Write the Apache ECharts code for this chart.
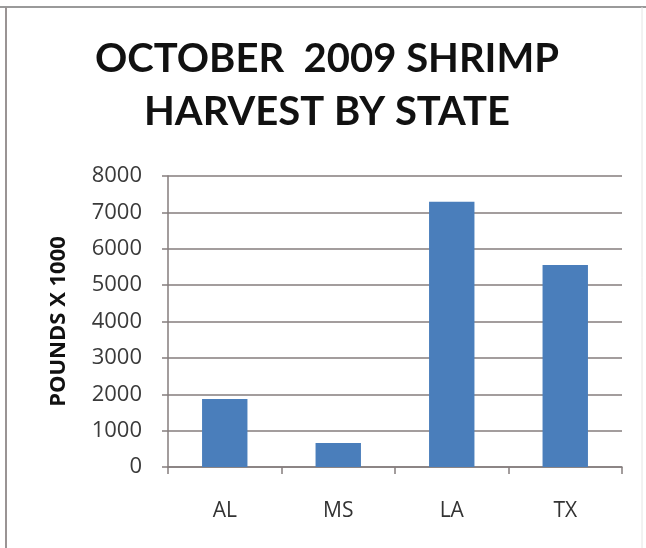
<!DOCTYPE html>
<html>
<head>
<meta charset="utf-8">
<script src="https://cdn.jsdelivr.net/npm/echarts@6/dist/echarts.min.js"></script>
<style>
  html, body { margin: 0; padding: 0; background: #ffffff; }
  #chart { width: 646px; height: 548px; }
</style>
</head>
<body>
<div id="chart"></div>
<script>
// October 2009 shrimp harvest, thousands of pounds per state
const states = ['AL', 'MS', 'LA', 'TX'];
const harvest = [1870, 660, 7290, 5550];
const yMin = 0;
const yMax = 8000;
const yStep = 1000;
const titleLines = ['OCTOBER  2009 SHRIMP', 'HARVEST BY STATE'];

const chart = echarts.init(document.getElementById('chart'), null, { renderer: 'canvas' });

const axisGrey = '#857d7d';

chart.setOption({
  backgroundColor: '#ffffff',
  animation: false,
  grid: {
    left: 168,
    right: 24,
    top: 176,
    bottom: 81,
    containLabel: false
  },
  xAxis: {
    type: 'category',
    data: states,
    axisLine: { show: true, lineStyle: { color: axisGrey, width: 1.5 } },
    axisTick: { show: true, length: 7, alignWithLabel: false, lineStyle: { color: axisGrey, width: 1.5 } },
    axisLabel: {
      margin: 34,
      fontFamily: 'Open Sans',
      fontSize: 21,
      color: '#333333'
    },
    splitLine: { show: false }
  },
  yAxis: {
    type: 'value',
    min: yMin,
    max: yMax,
    interval: yStep,
    name: 'POUNDS X 1000',
    nameLocation: 'middle',
    nameGap: 98,
    nameRotate: 90,
    nameTextStyle: {
      fontFamily: 'Open Sans',
      fontWeight: 'bold',
      fontSize: 22,
      color: '#111111'
    },
    axisLine: { show: true, lineStyle: { color: axisGrey, width: 1.5 } },
    axisTick: { show: true, length: 6, lineStyle: { color: axisGrey, width: 1.5 } },
    axisLabel: {
      margin: 26,
      fontFamily: 'Open Sans',
      fontSize: 22,
      color: '#3a3a3a',
      formatter: (v) => String(v)
    },
    splitLine: { show: true, lineStyle: { color: axisGrey, width: 1.5 } }
  },
  series: [{
    type: 'bar',
    data: harvest,
    barWidth: '40%',
    itemStyle: { color: '#4a7ebb' }
  }],
  graphic: [
    // chart title, two centred lines
    {
      type: 'text',
      x: 327,
      y: 33,
      style: {
        text: titleLines.join('\n'),
        align: 'center',
        verticalAlign: 'top',
        fontFamily: 'Lato',
        fontWeight: 'bold',
        fontSize: 40,
        lineHeight: 53,
        fill: '#111111'
      }
    },
    // frame around the chart area
    { type: 'line', shape: { x1: 0, y1: 7, x2: 646, y2: 7 }, style: { stroke: '#9a9a9a', lineWidth: 2 } },
    { type: 'line', shape: { x1: 6, y1: 7, x2: 6, y2: 548 }, style: { stroke: '#9a9494', lineWidth: 2 } },
    { type: 'line', shape: { x1: 642, y1: 7, x2: 642, y2: 548 }, style: { stroke: '#e4e4e4', lineWidth: 1 } }
  ]
});
</script>
</body>
</html>
